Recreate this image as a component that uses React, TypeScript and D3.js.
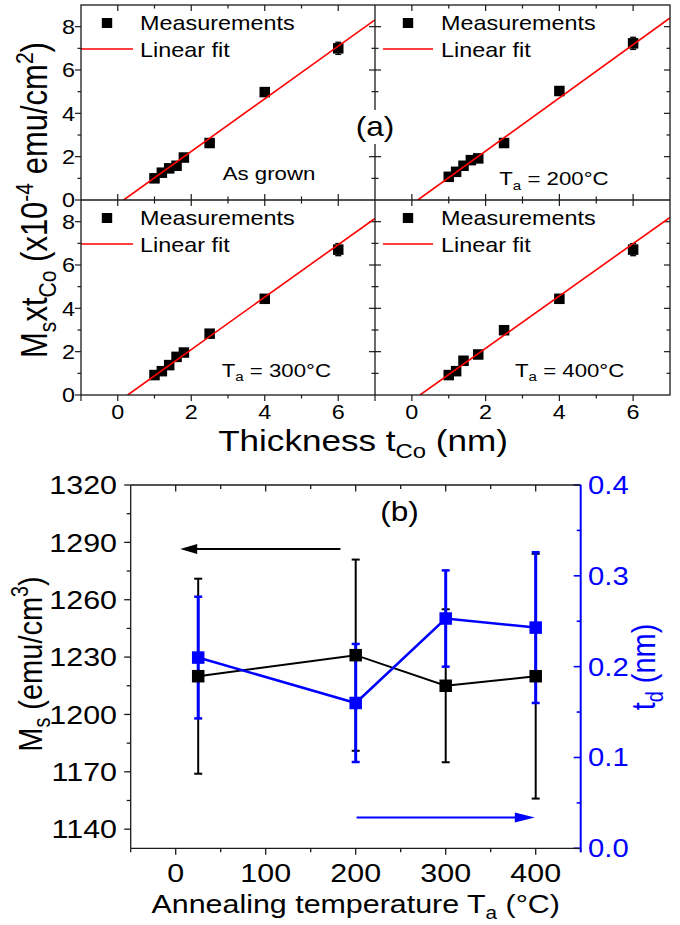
import React from "react";
import * as d3 from "d3";

// ---------- data: panel (a) ----------
const panelNames = ["As grown", "T_a = 200°C", "T_a = 300°C", "T_a = 400°C"];
const thickAsGrown = [1.0, 1.2, 1.4, 1.6, 1.8, 2.5, 4.0, 6.0];
const momentAsGrown = [1.0, 1.26, 1.46, 1.58, 1.96, 2.63, 4.98, 7.0];
const errAsGrown = [0.05, 0.05, 0.05, 0.05, 0.05, 0.06, 0.08, 0.28];

const thick200 = [1.0, 1.2, 1.4, 1.6, 1.8, 2.5, 4.0, 6.0];
const moment200 = [1.07, 1.3, 1.58, 1.84, 1.92, 2.63, 5.03, 7.23];
const err200 = [0.05, 0.05, 0.05, 0.05, 0.05, 0.06, 0.08, 0.28];

const thick300 = [1.0, 1.2, 1.4, 1.6, 1.8, 2.5, 4.0, 6.0];
const moment300 = [0.92, 1.1, 1.38, 1.76, 1.96, 2.83, 4.44, 6.71];
const err300 = [0.05, 0.05, 0.05, 0.05, 0.05, 0.06, 0.08, 0.28];

const thick400 = [1.0, 1.2, 1.4, 1.8, 2.5, 4.0, 6.0];
const moment400 = [0.92, 1.1, 1.58, 1.87, 2.99, 4.44, 6.71];
const err400 = [0.05, 0.05, 0.05, 0.05, 0.06, 0.08, 0.28];

const fitSlope = [1.216, 1.228, 1.211, 1.209];
const fitZero = [0.16, 0.16, 0.27, 0.22];

const aXTicks = [0, 2, 4, 6];
const aYTicks = [0, 2, 4, 6, 8];
const legendLabels = ["Measurements", "Linear fit"];

// ---------- data: panel (b) ----------
const annealT = [25, 200, 300, 400];
const msValues = [1220, 1231, 1215, 1220];
const msErr = [51, 50, 40, 64];
const tdValues = [0.21, 0.16, 0.253, 0.243];
const tdErr = [0.067, 0.065, 0.053, 0.083];
const bXTicks = [0, 100, 200, 300, 400];
const bYTicks = [1140, 1170, 1200, 1230, 1260, 1290, 1320];
const bY2Ticks = [0.0, 0.1, 0.2, 0.3, 0.4];

const SX = 1.17;
const FONT = "'Liberation Sans', Arial, Helvetica, sans-serif";
const BLUE = "#0000FF";
const RED = "#FF0000";
const AX = "#1a1a1a";

type Seg = { t: string; sub?: boolean; sup?: boolean };

function Txt({ x, y, size, anchor = "start", fill = "#000", rot = 0, segs }:
  { x: number; y: number; size: number; anchor?: string; fill?: string; rot?: number; segs: Seg[] }) {
  let shift = 0;
  const parts = segs.map((s, i) => {
    const target = s.sub ? size * 0.24 : s.sup ? -size * 0.4 : 0;
    const dy = target - shift;
    shift = target;
    return (
      <tspan key={i} dy={dy} fontSize={s.sub || s.sup ? size * 0.68 : size}>
        {s.t}
      </tspan>
    );
  });
  return (
    <text
      transform={`translate(${x},${y}) scale(${SX},1)${rot ? ` rotate(${rot})` : ""}`}
      fontFamily={FONT}
      fontSize={size}
      textAnchor={anchor}
      fill={fill}
    >
      {parts}
    </text>
  );
}

function parseLabel(s: string): Seg[] {
  if (s.startsWith("T_a")) return [{ t: "T" }, { t: "a", sub: true }, { t: s.slice(3) }];
  return [{ t: s }];
}

const A_X = [81, 375, 670];
const A_Y = [5, 200, 395];

const panelData = [
  { xs: thickAsGrown, ys: momentAsGrown, es: errAsGrown },
  { xs: thick200, ys: moment200, es: err200 },
  { xs: thick300, ys: moment300, es: err300 },
  { xs: thick400, ys: moment400, es: err400 },
];
const annotPos = [
  { dx: 141.7, dy: 175 },
  { dx: 124.3, dy: 180 },
  { dx: 140.7, dy: 176.7 },
  { dx: 140, dy: 176.7 },
];

function PanelA({ idx }: { idx: number }) {
  const col = idx % 2;
  const row = Math.floor(idx / 2);
  const x0 = A_X[col], x1 = A_X[col + 1];
  const y0 = A_Y[row], y1 = A_Y[row + 1];
  const xs = d3.scaleLinear().domain([-1, 7]).range([x0, x1]);
  const ys = d3.scaleLinear().domain([0, 9]).range([y1, y0]);
  const d = panelData[idx];
  const clipId = `clipA${idx}`;
  const fitX = [fitZero[idx], 7];
  const line = d3.line<number>().x((v) => xs(v)).y((v) => ys(fitSlope[idx] * (v - fitZero[idx])));
  const majX = d3.range(-1, 8, 1);
  const majY = d3.range(0, 10, 1);
  const ticks: JSX.Element[] = [];
  majX.forEach((v) => {
    const L = v % 2 === 0 ? 6 : 3.5;
    const px = xs(v);
    if (v === -1 || v === 7) return;
    if (row === 1) ticks.push(<line key={`b${v}`} x1={px} x2={px} y1={y1} y2={y1 + L} stroke={AX} strokeWidth={1.2} />);
    else ticks.push(<line key={`b${v}`} x1={px} x2={px} y1={y1} y2={y1 - L} stroke={AX} strokeWidth={1.2} />);
    ticks.push(<line key={`t${v}`} x1={px} x2={px} y1={y0} y2={y0 + L} stroke={AX} strokeWidth={1.2} />);
  });
  majY.forEach((v) => {
    const L = v % 2 === 0 ? 6 : 3.5;
    const py = ys(v);
    if (v === 0 || v === 9) return;
    if (col === 0) ticks.push(<line key={`l${v}`} x1={x0} x2={x0 - L} y1={py} y2={py} stroke={AX} strokeWidth={1.2} />);
    else ticks.push(<line key={`l${v}`} x1={x0} x2={x0 + L} y1={py} y2={py} stroke={AX} strokeWidth={1.2} />);
    ticks.push(<line key={`r${v}`} x1={x1} x2={x1 - L} y1={py} y2={py} stroke={AX} strokeWidth={1.2} />);
  });
  if (col === 0) ticks.push(<line key="l0" x1={x0} x2={x0 - 6} y1={y1} y2={y1} stroke={AX} strokeWidth={1.2} />);
  if (row === 1) ticks.push(<line key="b-1" x1={x0} x2={x0} y1={y1} y2={y1 + 6} stroke={AX} strokeWidth={1.2} />);

  const legMx = col === 0 ? 26 : 33;
  const legTx = col === 0 ? 59 : 66;
  const legL0 = col === 0 ? 0 : 8;
  const legL1 = col === 0 ? 52 : 58;
  const ms = 10.5;
  return (
    <g>
      <defs>
        <clipPath id={clipId}>
          <rect x={x0} y={y0} width={x1 - x0} height={y1 - y0} />
        </clipPath>
      </defs>
      {ticks}
      <g clipPath={`url(#${clipId})`}>
        {d.xs.map((x, i) => (
          <g key={i}>
            <line x1={xs(x)} x2={xs(x)} y1={ys(d.ys[i] - d.es[i])} y2={ys(d.ys[i] + d.es[i])} stroke="#000" strokeWidth={1.3} />
            <line x1={xs(x) - 3} x2={xs(x) + 3} y1={ys(d.ys[i] - d.es[i])} y2={ys(d.ys[i] - d.es[i])} stroke="#000" strokeWidth={1.3} />
            <line x1={xs(x) - 3} x2={xs(x) + 3} y1={ys(d.ys[i] + d.es[i])} y2={ys(d.ys[i] + d.es[i])} stroke="#000" strokeWidth={1.3} />
            <rect x={xs(x) - ms / 2} y={ys(d.ys[i]) - ms / 2} width={ms} height={ms} fill="#000" />
          </g>
        ))}
        <path d={line(fitX) || ""} stroke={RED} strokeWidth={1.6} fill="none" />
      </g>
      <rect x={x0 + legMx - 5.2} y={y0 + 18 - 5} width={10.4} height={10} fill="#000" />
      <Txt x={x0 + legTx} y={y0 + 25} size={20} segs={[{ t: legendLabels[0] }]} />
      <line x1={x0 + legL0} x2={x0 + legL1} y1={y0 + 44} y2={y0 + 44} stroke={RED} strokeWidth={1.6} />
      <Txt x={x0 + legTx} y={y0 + 51.5} size={20} segs={[{ t: legendLabels[1] }]} />
      <Txt x={x0 + annotPos[idx].dx} y={y0 + annotPos[idx].dy} size={19} segs={parseLabel(panelNames[idx])} />
      {col === 0 &&
        aYTicks.map((v) => (
          <Txt key={`yl${v}`} x={75} y={ys(v) + 7.2} size={20} anchor="end" segs={[{ t: String(v) }]} />
        ))}
      {row === 1 &&
        aXTicks.map((v) => (
          <Txt key={`xl${v}`} x={xs(v)} y={419} size={20} anchor="middle" segs={[{ t: String(v) }]} />
        ))}
    </g>
  );
}

function ChartA() {
  return (
    <g>
      {[0, 1, 2, 3].map((i) => (
        <PanelA key={i} idx={i} />
      ))}
      <rect x={A_X[0]} y={A_Y[0]} width={A_X[2] - A_X[0]} height={A_Y[2] - A_Y[0]} fill="none" stroke={AX} strokeWidth={1.3} />
      <line x1={A_X[1]} x2={A_X[1]} y1={A_Y[0]} y2={A_Y[2]} stroke={AX} strokeWidth={1.3} />
      <line x1={A_X[0]} x2={A_X[2]} y1={A_Y[1]} y2={A_Y[1]} stroke={AX} strokeWidth={1.3} />
      <rect x={358} y={110} width={34} height={34} fill="#fff" />
      <Txt x={375} y={136} size={27} anchor="middle" segs={[{ t: "(a)" }]} />
      <Txt
        x={47}
        y={200}
        size={31}
        anchor="middle"
        rot={-90}
        segs={[
          { t: "M" },
          { t: "s", sub: true },
          { t: "xt" },
          { t: "Co", sub: true },
          { t: " (x10" },
          { t: "-4", sup: true },
          { t: " emu/cm" },
          { t: "2", sup: true },
          { t: ")" },
        ]}
      />
      <Txt
        x={363}
        y={451}
        size={30}
        anchor="middle"
        segs={[{ t: "Thickness t" }, { t: "Co", sub: true }, { t: " (nm)" }]}
      />
    </g>
  );
}

function ChartB() {
  const L = 130.7, R = 580.7, T = 485, B = 848.3;
  const x = d3.scaleLinear().domain([-50, 450]).range([L, R]);
  const y = d3.scaleLinear().domain([1130, 1320]).range([B, T]);
  const y2 = d3.scaleLinear().domain([0, 0.4]).range([B, T]);
  const msLine = d3.line<number>().x((_, i) => x(annealT[i])).y((v) => y(v));
  const tdLine = d3.line<number>().x((_, i) => x(annealT[i])).y((v) => y2(v));
  const ticks: JSX.Element[] = [];
  d3.range(-50, 451, 50).forEach((v) => {
    const major = v % 100 === 0;
    const Lt = major ? 6.5 : 4;
    ticks.push(<line key={`bx${v}`} x1={x(v)} x2={x(v)} y1={B} y2={B + Lt} stroke={AX} strokeWidth={1.3} />);
    if (v > -50 && v < 450)
      ticks.push(<line key={`tx${v}`} x1={x(v)} x2={x(v)} y1={T} y2={T + Lt} stroke={AX} strokeWidth={1.3} />);
  });
  d3.range(1140, 1321, 15).forEach((v) => {
    const major = (v - 1140) % 30 === 0;
    const Lt = major ? 6.5 : 4;
    ticks.push(<line key={`ly${v}`} x1={L} x2={L - Lt} y1={y(v)} y2={y(v)} stroke={AX} strokeWidth={1.3} />);
  });
  d3.range(0, 0.401, 0.05).forEach((v, i) => {
    const major = i % 2 === 0;
    const Lt = major ? 7 : 4;
    ticks.push(<line key={`ry${i}`} x1={R} x2={R - Lt} y1={y2(v)} y2={y2(v)} stroke={BLUE} strokeWidth={1.6} />);
  });
  const cap = 4;
  const msz = 12.5;
  return (
    <g>
      {ticks}
      <line x1={L} x2={R} y1={T} y2={T} stroke={AX} strokeWidth={1.3} />
      <line x1={L} x2={R} y1={B} y2={B} stroke={AX} strokeWidth={1.3} />
      <line x1={L} x2={L} y1={T} y2={B} stroke={AX} strokeWidth={1.3} />
      <line x1={R} x2={R} y1={T} y2={B + 4} stroke={BLUE} strokeWidth={2} />
      {annealT.map((t, i) => (
        <g key={`me${i}`}>
          <line x1={x(t)} x2={x(t)} y1={y(msValues[i] - msErr[i])} y2={y(msValues[i] + msErr[i])} stroke="#000" strokeWidth={2} />
          <line x1={x(t) - cap} x2={x(t) + cap} y1={y(msValues[i] - msErr[i])} y2={y(msValues[i] - msErr[i])} stroke="#000" strokeWidth={2} />
          <line x1={x(t) - cap} x2={x(t) + cap} y1={y(msValues[i] + msErr[i])} y2={y(msValues[i] + msErr[i])} stroke="#000" strokeWidth={2} />
        </g>
      ))}
      {annealT.map((t, i) => (
        <g key={`te${i}`}>
          <line x1={x(t)} x2={x(t)} y1={y2(tdValues[i] - tdErr[i])} y2={y2(tdValues[i] + tdErr[i])} stroke={BLUE} strokeWidth={3} />
          <line x1={x(t) - cap} x2={x(t) + cap} y1={y2(tdValues[i] - tdErr[i])} y2={y2(tdValues[i] - tdErr[i])} stroke={BLUE} strokeWidth={2.5} />
          <line x1={x(t) - cap} x2={x(t) + cap} y1={y2(tdValues[i] + tdErr[i])} y2={y2(tdValues[i] + tdErr[i])} stroke={BLUE} strokeWidth={2.5} />
        </g>
      ))}
      <path d={msLine(msValues) || ""} stroke="#000" strokeWidth={2} fill="none" />
      {annealT.map((t, i) => (
        <rect key={`mm${i}`} x={x(t) - msz / 2} y={y(msValues[i]) - msz / 2} width={msz} height={msz} fill="#000" />
      ))}
      <path d={tdLine(tdValues) || ""} stroke={BLUE} strokeWidth={2.5} fill="none" />
      {annealT.map((t, i) => (
        <rect key={`tm${i}`} x={x(t) - msz / 2} y={y2(tdValues[i]) - msz / 2} width={msz} height={msz} fill={BLUE} />
      ))}
      <line x1={x(183)} x2={x(5) + 15} y1={y(1286.5)} y2={y(1286.5)} stroke="#000" strokeWidth={2} />
      <polygon
        points={`${x(5)},${y(1286.5)} ${x(5) + 17},${y(1286.5) - 5} ${x(5) + 17},${y(1286.5) + 5}`}
        fill="#000"
      />
      <line x1={x(201)} x2={x(399) - 18} y1={y2(0.034)} y2={y2(0.034)} stroke={BLUE} strokeWidth={2} />
      <polygon
        points={`${x(399)},${y2(0.034)} ${x(399) - 20},${y2(0.034) - 5} ${x(399) - 20},${y2(0.034) + 5}`}
        fill={BLUE}
      />
      {bXTicks.map((v) => (
        <Txt key={`bxl${v}`} x={x(v)} y={882} size={26} anchor="middle" segs={[{ t: String(v) }]} />
      ))}
      {bYTicks.map((v) => (
        <Txt key={`byl${v}`} x={117} y={y(v) + 9.3} size={26} anchor="end" segs={[{ t: String(v) }]} />
      ))}
      {bY2Ticks.map((v) => (
        <Txt key={`by2l${v}`} x={588} y={y2(v) + 9} size={25} fill={BLUE} segs={[{ t: v.toFixed(1) }]} />
      ))}
      <Txt x={399.5} y={521} size={27} anchor="middle" segs={[{ t: "(b)" }]} />
      <Txt
        x={355.7}
        y={913}
        size={26}
        anchor="middle"
        segs={[{ t: "Annealing temperature T" }, { t: "a", sub: true }, { t: " (°C)" }]}
      />
      <Txt
        x={42}
        y={664}
        size={29}
        anchor="middle"
        rot={-90}
        segs={[{ t: "M" }, { t: "s", sub: true }, { t: " (emu/cm" }, { t: "3", sup: true }, { t: ")" }]}
      />
      <Txt
        x={655}
        y={667}
        size={29}
        anchor="middle"
        rot={-90}
        fill={BLUE}
        segs={[{ t: "t" }, { t: "d", sub: true }, { t: " (nm)" }]}
      />
    </g>
  );
}

export default function App() {
  return (
    <svg width={680} height={925} style={{ position: "absolute", left: 0, top: 0, background: "#fff" }}>
      <rect x={0} y={0} width={680} height={925} fill="#fff" />
      <ChartA />
      <ChartB />
    </svg>
  );
}
